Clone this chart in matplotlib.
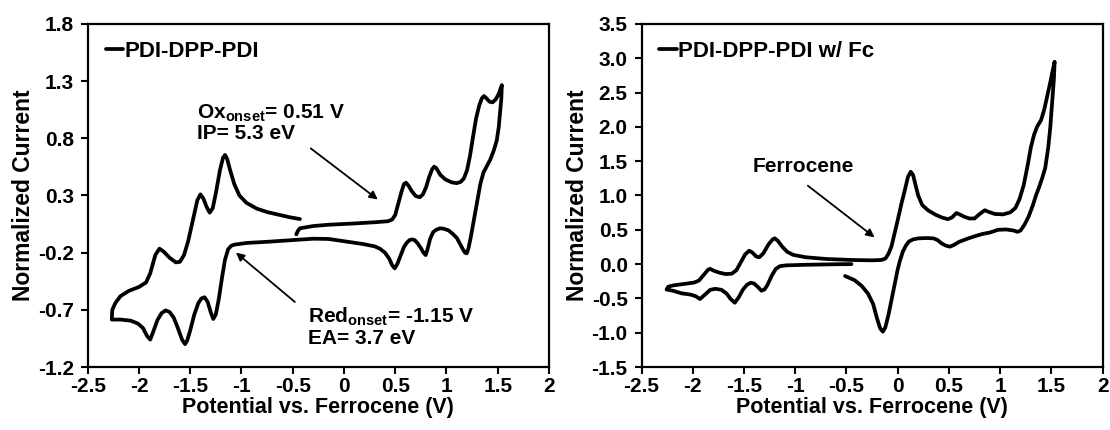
import matplotlib
matplotlib.use("Agg")
import matplotlib.pyplot as plt

plt.rcParams['font.family'] = ['Liberation Sans', 'DejaVu Sans']
plt.rcParams['font.weight'] = 'bold'
plt.rcParams['axes.unicode_minus'] = False
plt.rcParams['mathtext.fontset'] = 'custom'
plt.rcParams['mathtext.rm'] = 'Liberation Sans:bold'
plt.rcParams['mathtext.bf'] = 'Liberation Sans:bold'

# CV of PDI-DPP-PDI (potential in V vs Fc/Fc+, normalized current)
cv1_v = [-0.465, -0.45, -0.43, -0.30, -0.153, 0.09, 0.30, 0.43, 0.47, 0.50, 0.53, 0.56, 0.585,
         0.605, 0.63, 0.66, 0.70, 0.74, 0.77, 0.80, 0.83, 0.86, 0.88, 0.90, 0.94, 0.99, 1.05,
         1.10, 1.14, 1.17, 1.20, 1.23, 1.26, 1.29, 1.32, 1.345, 1.366, 1.39, 1.42, 1.45, 1.48,
         1.51, 1.54,
         1.535, 1.525, 1.51, 1.49, 1.46, 1.425, 1.39, 1.36, 1.33, 1.30, 1.27, 1.24, 1.215,
         1.198, 1.18, 1.16, 1.13, 1.10, 1.06, 1.02, 0.97, 0.937, 0.90, 0.87, 0.84, 0.815, 0.797,
         0.775, 0.75, 0.72, 0.69, 0.665, 0.64, 0.615, 0.585, 0.55, 0.52, 0.495, 0.47, 0.44,
         0.40, 0.35, 0.30, 0.19, 0.0, -0.15, -0.30, -0.50, -0.75, -0.95, -1.07,
         -1.10, -1.13, -1.16, -1.19, -1.22, -1.25, -1.275, -1.30, -1.33, -1.36, -1.39, -1.42,
         -1.46, -1.50, -1.53, -1.55, -1.58, -1.62, -1.66, -1.70, -1.74, -1.78, -1.82, -1.86,
         -1.89, -1.92, -1.96, -2.01, -2.08, -2.18, -2.265,
         -2.26, -2.23, -2.18, -2.10, -2.0, -1.93, -1.89, -1.84, -1.80, -1.76, -1.70, -1.64,
         -1.60, -1.56, -1.52, -1.47, -1.43, -1.40, -1.37, -1.34, -1.31, -1.28, -1.25, -1.21,
         -1.18, -1.16, -1.14, -1.11, -1.07, -1.02, -0.95, -0.85, -0.75, -0.62, -0.53, -0.43]
cv1_i = [-0.04, -0.01, 0.013, 0.033, 0.044, 0.055, 0.066, 0.075, 0.09, 0.13, 0.23, 0.33, 0.40,
         0.412, 0.385, 0.34, 0.295, 0.285, 0.31, 0.37, 0.46, 0.53, 0.552, 0.54, 0.48, 0.44, 0.415,
         0.408, 0.42, 0.45, 0.52, 0.65, 0.82, 0.98, 1.09, 1.15, 1.17, 1.15, 1.12, 1.115, 1.14,
         1.19, 1.266,
         1.15, 1.05, 0.90, 0.78, 0.69, 0.61, 0.55, 0.50, 0.40, 0.25, 0.10, -0.05, -0.16,
         -0.206, -0.20, -0.17, -0.12, -0.07, -0.035, -0.005, 0.01, 0.013, 0.0, -0.02, -0.08,
         -0.17, -0.221, -0.20, -0.16, -0.12, -0.09, -0.084, -0.09, -0.11, -0.15, -0.23, -0.30,
         -0.337, -0.31, -0.25, -0.20, -0.165, -0.145, -0.125, -0.10, -0.08, -0.078, -0.09,
         -0.105, -0.115, -0.13,
         -0.14, -0.17, -0.26, -0.42, -0.60, -0.74, -0.78, -0.72, -0.63, -0.59, -0.60, -0.64,
         -0.74, -0.88, -0.97, -1.0, -0.96, -0.86, -0.77, -0.72, -0.705, -0.73, -0.79, -0.89,
         -0.96, -0.93, -0.86, -0.82, -0.795, -0.785, -0.785,
         -0.70, -0.64, -0.58, -0.535, -0.50, -0.46, -0.38, -0.22, -0.165, -0.19, -0.245, -0.285,
         -0.28, -0.22, -0.10, 0.10, 0.26, 0.31, 0.27, 0.20, 0.15, 0.19, 0.32, 0.52,
         0.63, 0.655, 0.62, 0.52, 0.40, 0.30, 0.235, 0.185, 0.155, 0.128, 0.11, 0.094]

# CV of PDI-DPP-PDI with ferrocene internal standard
cv2_v = [-0.451, -0.60, -0.90, -1.085, -1.15, -1.19, -1.23, -1.27, -1.30, -1.33, -1.36, -1.40,
         -1.434, -1.47, -1.51, -1.55, -1.59, -1.63, -1.67, -1.72, -1.78, -1.83, -1.87, -1.93,
         -1.97, -2.02, -2.11, -2.19, -2.256,
         -2.24, -2.19, -2.09, -1.99, -1.94, -1.89, -1.85, -1.83, -1.79, -1.74, -1.68, -1.62,
         -1.575, -1.53, -1.49, -1.45, -1.42, -1.38, -1.35, -1.31, -1.26, -1.22, -1.20, -1.17,
         -1.13, -1.08, -1.02, -0.90, -0.70, -0.45, -0.25, -0.16, -0.12, -0.09, -0.06, -0.03,
         0.0, 0.035, 0.07, 0.10, 0.127, 0.15, 0.17, 0.20, 0.24, 0.30, 0.37, 0.43, 0.49, 0.53,
         0.573, 0.61, 0.65, 0.70, 0.75, 0.80, 0.85, 0.89, 0.95, 1.03, 1.10, 1.15, 1.19, 1.23,
         1.27, 1.30, 1.33, 1.36, 1.40, 1.43, 1.46, 1.49, 1.51, 1.532,
         1.525, 1.51, 1.49, 1.47, 1.44, 1.41, 1.38, 1.35, 1.32, 1.28, 1.24, 1.20, 1.17, 1.13,
         1.06, 0.98, 0.90, 0.83, 0.75, 0.68, 0.60, 0.55, 0.51, 0.47, 0.43, 0.39, 0.35, 0.28,
         0.20, 0.15, 0.11, 0.08, 0.05, 0.02, 0.0, -0.03, -0.06, -0.09, -0.12, -0.145, -0.17,
         -0.20, -0.24, -0.29, -0.35, -0.42, -0.514]
cv2_i = [0.0, -0.002, -0.01, -0.018, -0.03, -0.07, -0.17, -0.30, -0.37, -0.388, -0.34, -0.285,
         -0.271, -0.30, -0.37, -0.48, -0.563, -0.51, -0.43, -0.375, -0.36, -0.375, -0.43, -0.509,
         -0.47, -0.445, -0.426, -0.39, -0.37,
         -0.33, -0.31, -0.29, -0.27, -0.24, -0.15, -0.08, -0.07, -0.10, -0.125, -0.145, -0.14,
         -0.09, 0.03, 0.14, 0.195, 0.17, 0.11, 0.10, 0.16, 0.29, 0.36, 0.376, 0.34,
         0.26, 0.18, 0.135, 0.10, 0.075, 0.06, 0.055, 0.06, 0.08, 0.15, 0.26, 0.45,
         0.64, 0.87, 1.08, 1.27, 1.347, 1.30, 1.18, 1.0, 0.86, 0.78, 0.72, 0.68, 0.655, 0.68,
         0.745, 0.72, 0.69, 0.665, 0.665, 0.73, 0.785, 0.76, 0.73, 0.725, 0.755, 0.82, 0.95, 1.15,
         1.45, 1.70, 1.88, 2.0, 2.1, 2.25, 2.45, 2.65, 2.8, 2.95,
         2.7, 2.4, 2.0, 1.7, 1.4, 1.25, 1.12, 1.0, 0.86, 0.70, 0.58, 0.49, 0.47, 0.49,
         0.505, 0.50, 0.46, 0.44, 0.405, 0.37, 0.325, 0.28, 0.254, 0.27, 0.30, 0.35, 0.375, 0.38,
         0.375, 0.36, 0.33, 0.27, 0.18, 0.04, -0.08, -0.30, -0.52, -0.74, -0.92, -0.985, -0.94,
         -0.80, -0.58, -0.43, -0.32, -0.235, -0.173]

x_ticks = [-2.5, -2, -1.5, -1, -0.5, 0, 0.5, 1, 1.5, 2]
x_labels = ['-2.5', '-2', '-1.5', '-1', '-0.5', '0', '0.5', '1', '1.5', '2']
y1_ticks = [-1.2, -0.7, -0.2, 0.3, 0.8, 1.3, 1.8]
y2_ticks = [-1.5, -1.0, -0.5, 0.0, 0.5, 1.0, 1.5, 2.0, 2.5, 3.0, 3.5]

fig = plt.figure(figsize=(11.1, 4.3), dpi=100)
ax1 = fig.add_axes([0.079, 0.1465, 0.4156, 0.7977])
ax2 = fig.add_axes([0.578, 0.1465, 0.4153, 0.7977])


def style(ax, yticks):
    ax.set_xlim(-2.5, 2)
    ax.set_ylim(yticks[0], yticks[-1])
    ax.set_xticks(x_ticks)
    ax.set_xticklabels(x_labels)
    ax.set_yticks(yticks)
    ax.set_yticklabels(['%.1f' % t for t in yticks])
    ax.tick_params(direction='out', length=5, width=1.5, labelsize=15, top=False, right=False)
    ax.tick_params(axis='y', pad=5)
    ax.tick_params(axis='x', pad=2)
    for s in ax.spines.values():
        s.set_linewidth(1.6)
    ax.set_xlabel('Potential vs. Ferrocene (V)', fontsize=15.5, fontweight='bold', labelpad=1)
    ax.set_ylabel('Normalized Current', fontsize=16.5, fontweight='bold', labelpad=2)


arrow = dict(arrowstyle='-|>', lw=1.3, color='black', mutation_scale=12, shrinkA=0, shrinkB=0)
curve = dict(color='black', lw=2.7, solid_joinstyle='round', solid_capstyle='round')
legend_opts = dict(loc='upper left', frameon=False, fontsize=16, handlelength=0.8,
                   handletextpad=0.05, borderaxespad=0.3, bbox_to_anchor=(0.005, 0.995))

ax1.plot(cv1_v, cv1_i, label='PDI-DPP-PDI', **curve)
style(ax1, y1_ticks)
ax1.legend(**legend_opts)
ax1.text(-1.43, 0.97, r'Ox$_{\rm onset}$= 0.51 V', fontsize=15, fontweight='bold')
ax1.text(-1.43, 0.79, 'IP= 5.3 eV', fontsize=15, fontweight='bold')
ax1.annotate('', xy=(0.33, 0.265), xytext=(-0.324, 0.712), arrowprops=arrow)
ax1.text(-0.35, -0.81, r'Red$_{\rm onset}$= -1.15 V', fontsize=15, fontweight='bold')
ax1.text(-0.35, -1.0, 'EA= 3.7 eV', fontsize=15, fontweight='bold')
ax1.annotate('', xy=(-1.054, -0.199), xytext=(-0.479, -0.631), arrowprops=arrow)

ax2.plot(cv2_v, cv2_i, label='PDI-DPP-PDI w/ Fc', **curve)
style(ax2, y2_ticks)
ax2.legend(**legend_opts)
ax2.text(-1.415, 1.43, 'Ferrocene', fontsize=15, fontweight='bold', va='center')
ax2.annotate('', xy=(-0.226, 0.39), xytext=(-0.877, 1.143), arrowprops=arrow)

fig.savefig('out.png', dpi=100)
